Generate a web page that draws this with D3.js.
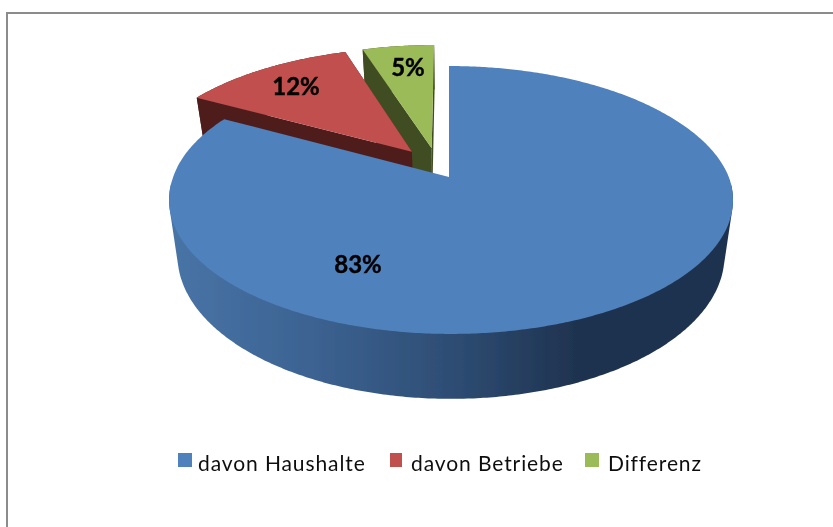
<!DOCTYPE html>
<html>
<head>
<meta charset="utf-8">
<script src="https://cdn.jsdelivr.net/npm/d3@7"></script>
<style>
  html, body { margin: 0; padding: 0; background: #fff; }
  svg { display: block; }
</style>
</head>
<body>
<svg id="chart"></svg>
<script>
const categories = ['davon Haushalte', 'davon Betriebe', 'Differenz'];
const shares = [83, 12, 5];
const labels = ['83%', '12%', '5%'];
const colors = ['#4f81bd', '#c0504d', '#9bbb59'];
const wallColors = ['#2f4d73', '#4f1f1e', '#414d22'];

const width = 833;
const height = 527;

const svg = d3.select('#chart').attr('width', width).attr('height', height);

// perspective of the pie plate, fitted on the picture
const apexX = 449;
const apexY = 177;
const radiusX = 277.8;
const radiusY = 130;
const tilt = 0.1716;
const depth = 53.8;
const bottomShrink = 0.97;

// pulled out slices: direction in degrees and distance in plate units
const explode = [
  { angle: 0, dist: 0 },
  { angle: 325.4, dist: 0.243 },
  { angle: 344.2, dist: 0.238 }
];
const labelPos = [[358, 273], [296, 95], [408, 76]];

const pie = d3.pie().sort(null).value(d => d);
const slices = pie(shares);

function plate(angle, r, ex) {
  const a = (ex.angle * Math.PI) / 180;
  return [r * Math.sin(angle) + ex.dist * Math.sin(a), -r * Math.cos(angle) - ex.dist * Math.cos(a)];
}

function project(p, low) {
  const w = 1 - tilt * p[1];
  const x = (radiusX * p[0]) / w;
  const y = (radiusY * p[1]) / w;
  if (low) return [apexX + x * bottomShrink, apexY + y + depth / w];
  return [apexX + x, apexY + y];
}

// the big slice's front sits 2px right of its tip in the picture
function rimShift(v) {
  return 2 * Math.max(0, Math.min(1, (v + 0.5) / 0.5));
}

function rim(start, end, ex, low) {
  const n = Math.max(2, Math.ceil(Math.abs(end - start) / 0.01));
  return d3.range(n + 1).map(i => {
    const p = plate(start + ((end - start) * i) / n, 1, ex);
    const q = project(p, low);
    return ex.dist === 0 ? [q[0] + rimShift(p[1]), q[1]] : q;
  });
}

const line = d3.line();

const defs = svg.append('defs');
const blur = defs.append('filter').attr('id', 'soft');
blur.append('feGaussianBlur').attr('stdDeviation', 0.6);
const textBlur = defs.append('filter').attr('id', 'softText');
textBlur.append('feGaussianBlur').attr('stdDeviation', 0.35);

const wallGradient = defs
  .append('linearGradient')
  .attr('id', 'blueWall')
  .attr('gradientUnits', 'userSpaceOnUse')
  .attr('x1', 170)
  .attr('x2', 733)
  .attr('y1', 0)
  .attr('y2', 0);
[
  [0, '#4874a6'],
  [0.25, '#3c6392'],
  [0.5, '#2e4d74'],
  [0.72, '#1f3350'],
  [1, '#1f3350']
].forEach(s => wallGradient.append('stop').attr('offset', s[0]).attr('stop-color', s[1]));

svg
  .append('rect')
  .attr('x', 7)
  .attr('y', 13)
  .attr('width', 900)
  .attr('height', 900)
  .attr('fill', 'none')
  .attr('stroke', '#8c8c8c')
  .attr('stroke-width', 2);

const pieGroup = svg.append('g').attr('filter', 'url(#soft)');

// green first, red hides its wall, blue goes over both
[2, 1, 0].forEach(i => {
  const s = slices[i];
  const ex = explode[i];
  const g = pieGroup.append('g');
  const apex = plate(0, 0, ex);
  const cutWall = angle => [
    project(apex, false),
    project(plate(angle, 1, ex), false),
    project(plate(angle, 1, ex), true),
    project(apex, true)
  ];
  if (i === 0) {
    // front of the big slice only, the hull gives the straight sides
    const front = (93 * Math.PI) / 180;
    const back = (267 * Math.PI) / 180;
    const hull = d3.polygonHull(rim(front, back, ex, false).concat(rim(front, back, ex, true)));
    g.append('path').attr('d', line(hull) + 'Z').attr('fill', 'url(#blueWall)');
  } else {
    g.append('path').attr('d', line(cutWall(s.startAngle)) + 'Z').attr('fill', wallColors[i]);
    g.append('path').attr('d', line(cutWall(s.endAngle)) + 'Z').attr('fill', wallColors[i]);
    g.append('path')
      .attr('d', line(rim(s.startAngle, s.endAngle, ex, false).concat(rim(s.endAngle, s.startAngle, ex, true))) + 'Z')
      .attr('fill', wallColors[i]);
  }
  g.append('path')
    .attr('d', line([project(apex, false)].concat(rim(s.startAngle, s.endAngle, ex, false))) + 'Z')
    .attr('fill', colors[i]);
});

svg
  .selectAll('text.value')
  .data(labels)
  .join('text')
  .attr('class', 'value')
  .attr('x', (d, i) => labelPos[i][0])
  .attr('y', (d, i) => labelPos[i][1])
  .attr('text-anchor', 'middle')
  .attr('font-family', 'Lato')
  .attr('font-weight', 700)
  .attr('font-size', 24)
  .attr('fill', '#000')
  .attr('stroke', '#000')
  .attr('stroke-width', 0.4)
  .attr('filter', 'url(#softText)')
  .text(d => d);

const legendSwatchX = [178, 390, 585];
const legendSwatchW = [14, 12, 14];
const legendTextX = [198, 411, 608];
const legend = svg.append('g');
categories.forEach((c, i) => {
  legend
    .append('rect')
    .attr('x', legendSwatchX[i])
    .attr('y', 453)
    .attr('width', legendSwatchW[i])
    .attr('height', 14)
    .attr('fill', colors[i]);
  legend
    .append('text')
    .attr('x', legendTextX[i])
    .attr('y', 471)
    .attr('font-family', 'Lato')
    .attr('font-size', 21)
    .attr('letter-spacing', '0.9px')
    .attr('fill', '#111')
    .attr('filter', 'url(#softText)')
    .text(c);
});
</script>
</body>
</html>
